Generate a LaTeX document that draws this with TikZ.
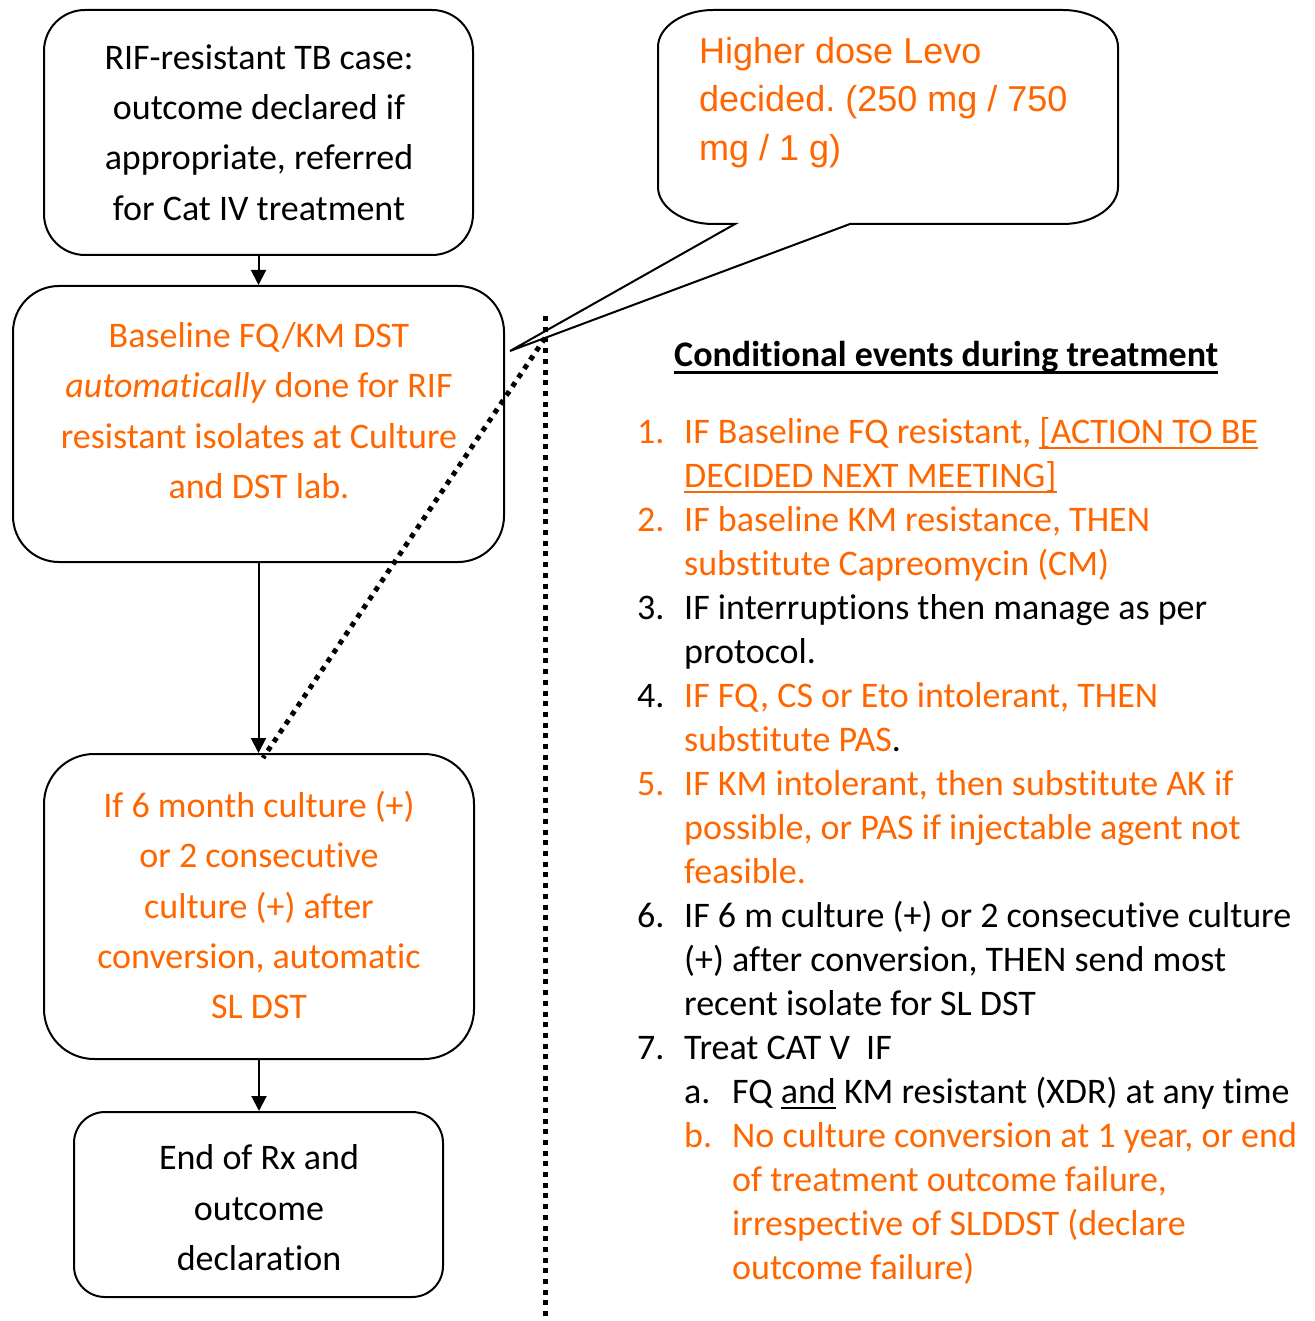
\documentclass[tikz,border=0pt]{standalone}
\usepackage{fontspec}
\setmainfont{Carlito}[Ligatures=NoCommon]
\newfontfamily\arialfont{Liberation Sans}
\usetikzlibrary{arrows.meta}
\definecolor{tborange}{RGB}{255,102,0}
\frenchspacing

% underline at a fixed depth below the baseline, in the current colour
\newsavebox\ulbox
\newcommand\ulined[3][-6pt]{\sbox\ulbox{#3}\usebox\ulbox\llap{\rule[#1]{\wd\ulbox}{#2}}}

\begin{document}
\begin{tikzpicture}[x=1pt,y=-1pt,
  flowbox/.style={draw=black, line width=2pt, inner sep=0pt},
  boxtext/.style={align=center, inner sep=0pt, font=\fontsize{36pt}{50.4pt}\selectfont},
  linetext/.style={anchor=base west, inner sep=0pt, font=\fontsize{36pt}{44pt}\selectfont},
  arr/.style={line width=2pt, -{Triangle[width=15pt,length=15pt]}},
  dots/.style={line width=5pt, dash pattern=on 5pt off 5.7pt},
  ornge/.style={text=tborange}]
\useasboundingbox (0,0) rectangle (1314,1321);

% ---- flow chart on the left ----
\node[flowbox, minimum width=429pt, minimum height=245pt, rounded corners=41pt] (b1) at (258.5,132.5) {};
\node[boxtext] (b1t) at (259,132.5) {RIF-resistant TB case:\\outcome declared if\\appropriate, referred\\for Cat IV treatment};

\node[flowbox, minimum width=491pt, minimum height=276pt, rounded corners=46pt] (b2) at (258.5,424) {};
\node[boxtext, ornge] (b2t) at (259,410.5) {Baseline FQ/KM DST\\\textit{automatically} done for RIF\\resistant isolates at Culture\\and DST lab.};

\node[flowbox, minimum width=430pt, minimum height=305pt, rounded corners=50pt] (b3) at (259,906.5) {};
\node[boxtext, ornge] (b3t) at (259,905) {If 6 month culture (+)\\or 2 consecutive\\culture (+) after\\conversion, automatic\\SL DST};

\node[flowbox, minimum width=369pt, minimum height=185pt, rounded corners=31pt] (b4) at (258.5,1204.5) {};
\node[boxtext] (b4t) at (259,1208) {End of Rx and\\outcome\\declaration};

\draw[arr] (b1.south) -- (b2.north);
\draw[arr] (b2.south) -- (b2.south |- b3.north);
\draw[arr] (b3.south) -- (b3.south |- b4.north);

% ---- speech bubble ----
\coordinate (tip) at (510,351);
\draw[line width=2pt, fill=white] (735,224) -- (tip) -- (850,224) -- (1063,224)
  .. controls (1093,224) and (1118,207) .. (1118,187) -- (1118,47)
  .. controls (1118,27) and (1093,10) .. (1063,10) -- (713,10)
  .. controls (683,10) and (658,27) .. (658,47) -- (658,187)
  .. controls (658,207) and (683,224) .. (713,224) -- cycle;
\node[anchor=north west, inner sep=0pt, align=left, text=tborange,
  font=\arialfont\fontsize{36pt}{48.5pt}\selectfont] (note) at (699,37)
  {Higher dose Levo\\decided. (250 mg / 750\\mg / 1 g)};

% ---- dotted separators ----
\coordinate (vtop) at (545,316);
\coordinate (vbot) at (545,1321);
\coordinate (dtop) at (545,338);
\coordinate (dbot) at (263,758);
\draw[dots] (vtop) -- (vbot);
\draw[dots] (dtop) -- (dbot);

% ---- conditional events list ----
\node[linetext, font=\bfseries\fontsize{36pt}{44pt}\selectfont] (head) at (674,366)
  {\ulined[-7.5pt]{3pt}{Conditional events during treatment}};

\node[linetext, ornge] (n1) at (637,443) {1.};
\node[linetext, ornge] (t1a) at (684,443) {IF Baseline FQ resistant, \ulined{2.4pt}{[ACTION TO BE}};
\node[linetext, ornge] (t1b) at (684,487) {\ulined{2.4pt}{DECIDED NEXT MEETING]}};

\node[linetext, ornge] (n2) at (637,531) {2.};
\node[linetext, ornge] (t2a) at (684,531) {IF baseline KM resistance, THEN};
\node[linetext, ornge] (t2b) at (684,575) {substitute Capreomycin (CM)};

\node[linetext] (n3) at (637,619) {3.};
\node[linetext] (t3a) at (684,619) {IF interruptions then manage as per};
\node[linetext] (t3b) at (684,663) {protocol.};

\node[linetext] (n4) at (637,707) {4.};
\node[linetext, ornge] (t4a) at (684,707) {IF FQ, CS or Eto intolerant, THEN};
\node[linetext] (t4b) at (684,751) {\textcolor{tborange}{substitute PAS}.};

\node[linetext, ornge] (n5) at (637,795) {5.};
\node[linetext, ornge] (t5a) at (684,795) {IF KM intolerant, then substitute AK if};
\node[linetext, ornge] (t5b) at (684,839) {possible, or PAS if injectable agent not};
\node[linetext, ornge] (t5c) at (684,883) {feasible.};

\node[linetext] (n6) at (637,927) {6.};
\node[linetext] (t6a) at (684,927) {IF 6 m culture (+) or 2 consecutive culture};
\node[linetext] (t6b) at (684,971) {(+) after conversion, THEN send most};
\node[linetext] (t6c) at (684,1015) {recent isolate for SL DST};

\node[linetext] (n7) at (637,1059) {7.};
\node[linetext] (t7) at (684,1059) {Treat CAT V\ \ IF};

\node[linetext] (na) at (684,1103) {a.};
\node[linetext] (ta) at (732,1103) {FQ \ulined{2.4pt}{and} KM resistant (XDR) at any time};

\node[linetext, ornge] (nb) at (684,1147) {b.};
\node[linetext, ornge] (tba) at (732,1147) {No culture conversion at 1 year, or end};
\node[linetext, ornge] (tbb) at (732,1191) {of treatment outcome failure,};
\node[linetext, ornge] (tbc) at (732,1235) {irrespective of SLDDST (declare};
\node[linetext, ornge] (tbd) at (732,1279) {outcome failure)};
\end{tikzpicture}
\end{document}
